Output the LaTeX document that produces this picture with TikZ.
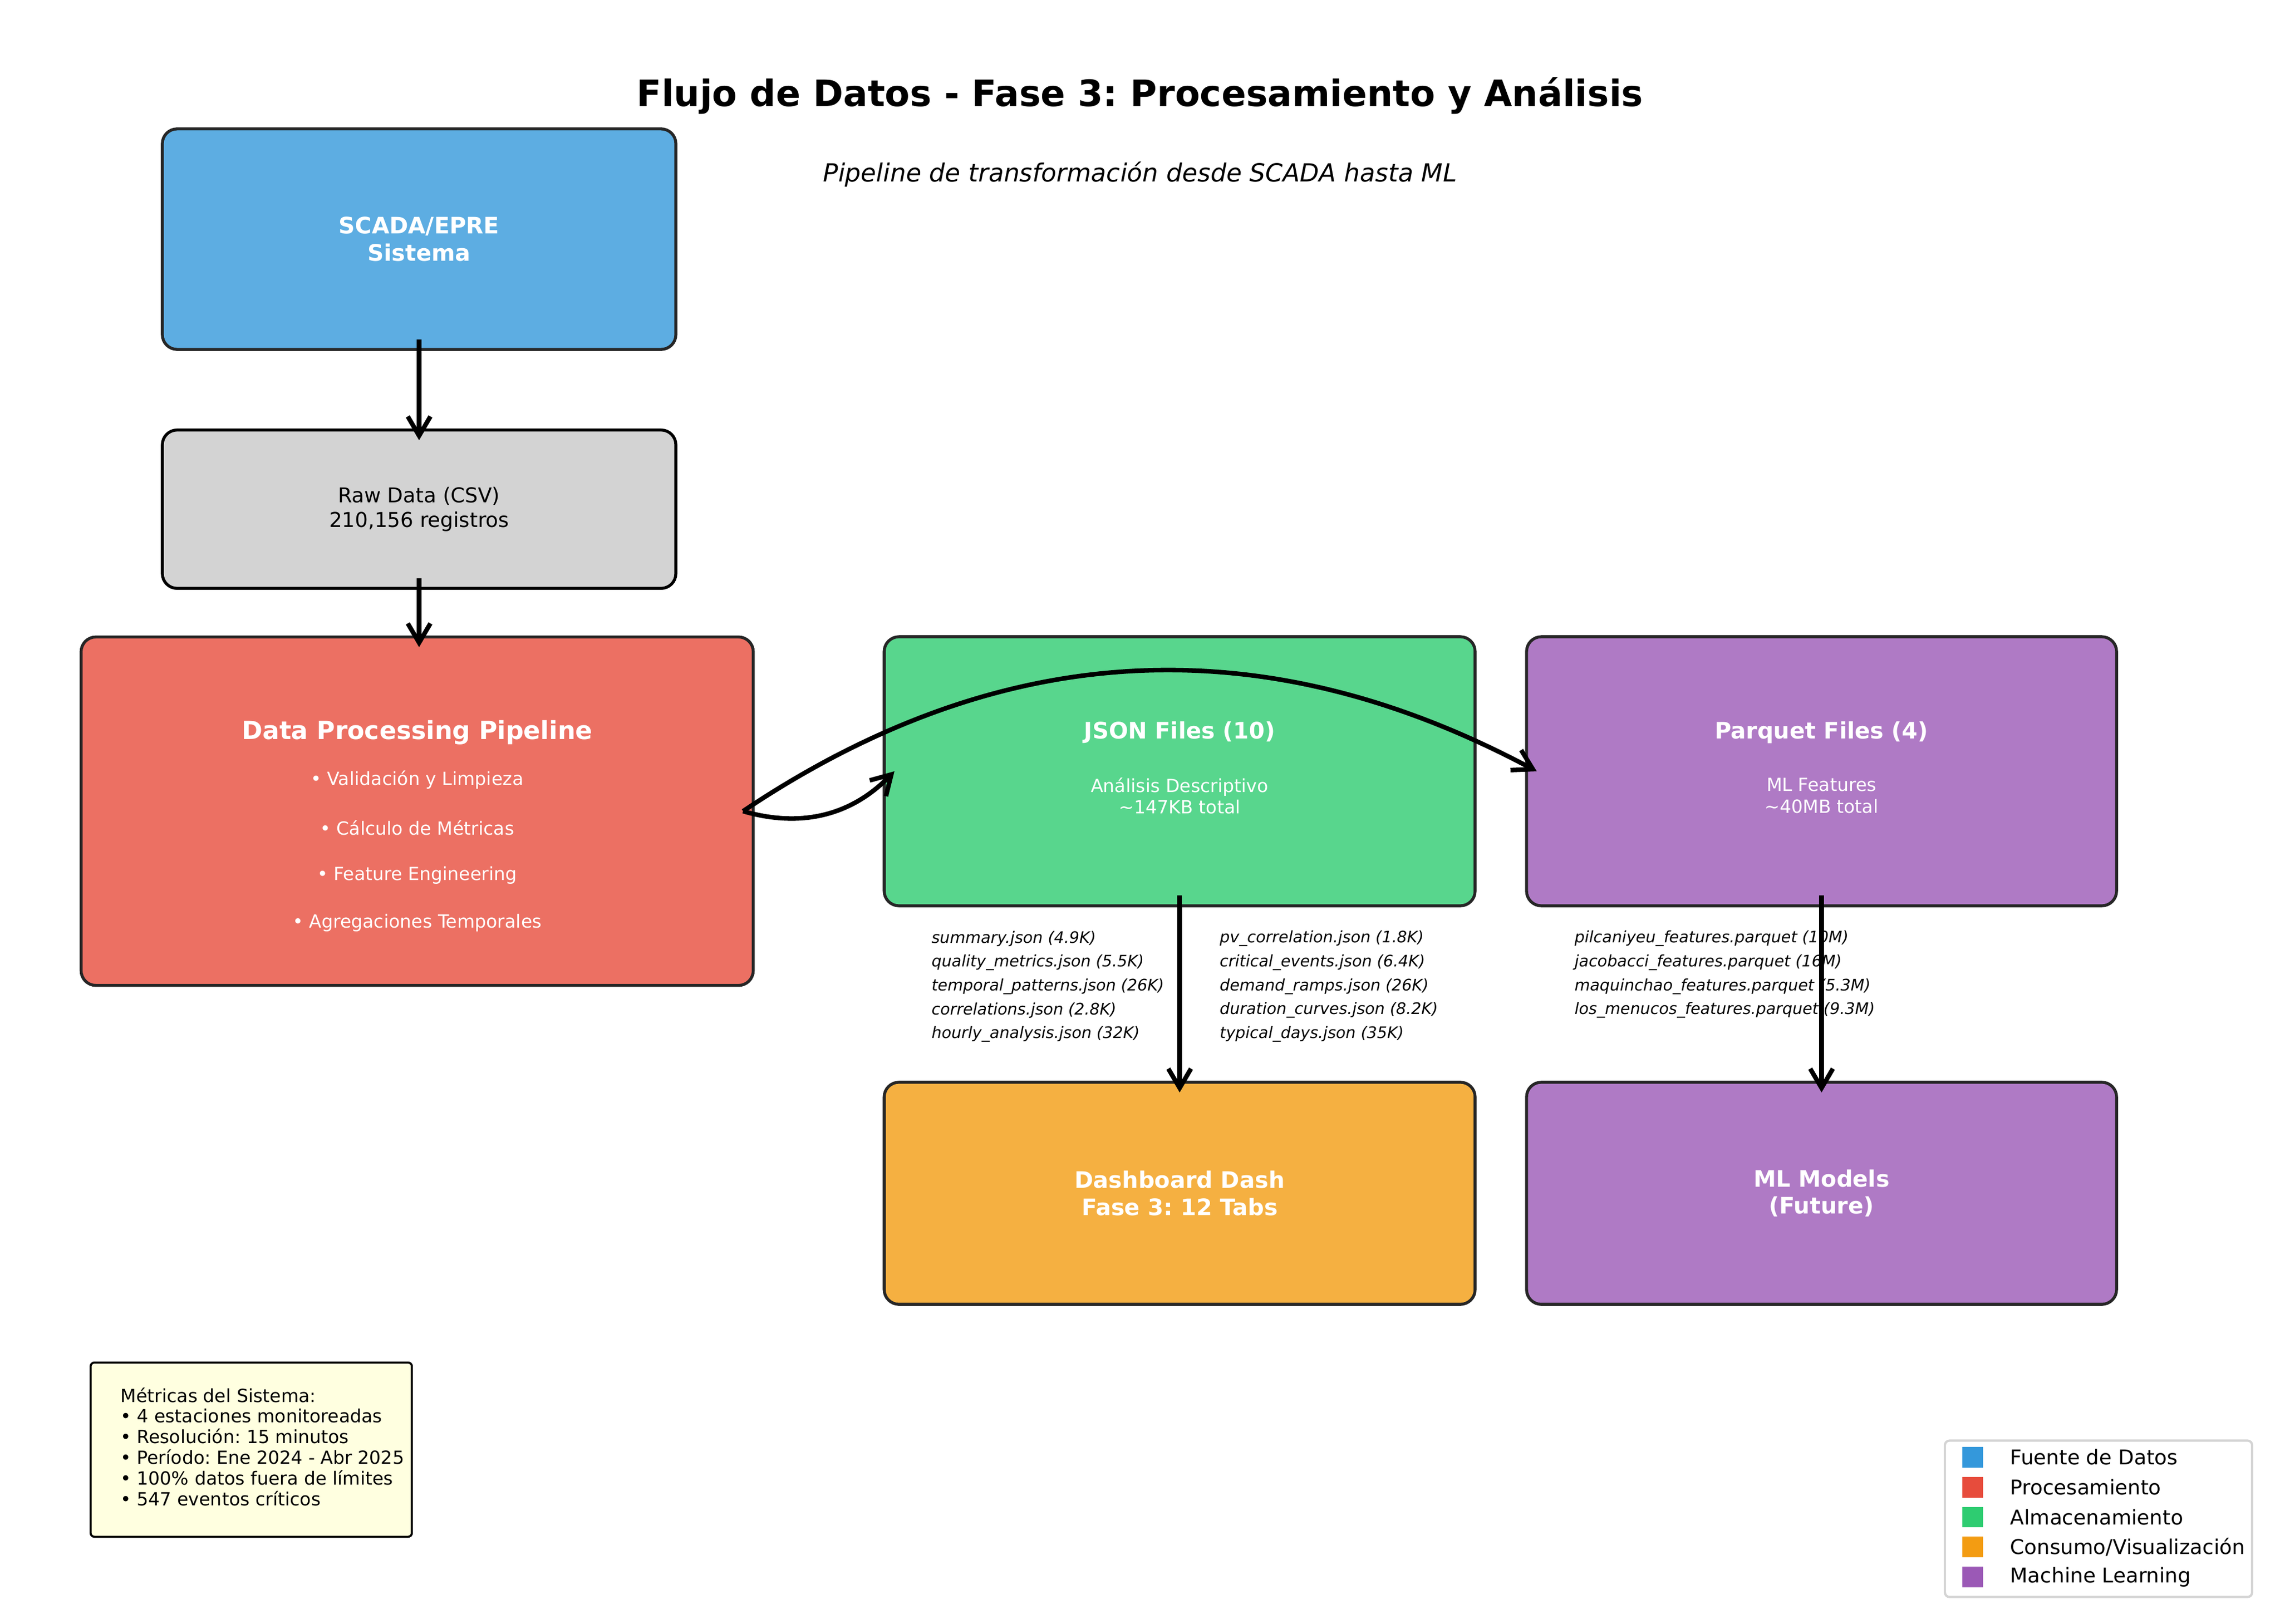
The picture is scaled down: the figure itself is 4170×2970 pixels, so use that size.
\documentclass[tikz,border=0pt]{standalone}
\usepackage{fontspec}
\setmainfont{DejaVu Sans}
\usepackage{tikz}
\usetikzlibrary{calc,positioning,arrows.meta,fit,shapes}
\frenchspacing

\definecolor{fuente}{HTML}{3498DB}
\definecolor{proceso}{HTML}{E74C3C}
\definecolor{almacen}{HTML}{2ECC71}
\definecolor{consumo}{HTML}{F39C12}
\definecolor{mlcolor}{HTML}{9B59B6}
\definecolor{gris}{HTML}{D3D3D3}
\definecolor{amarillo}{HTML}{FFFFE0}

\tikzset{
	block/.style={draw=black!85, line width=1.3pt, rounded corners=6.5pt, text=white,
		font=\bfseries\fontsize{10}{12}\selectfont, align=center, outer sep=-4.5pt},
	boxtitle/.style={text=white, inner sep=0pt},
	boxtext/.style={text=white, inner sep=0pt, align=center, font=\fontsize{8}{9.6}\selectfont},
	archivo/.style={anchor=west, inner sep=0pt, font=\itshape\fontsize{7}{8.4}\selectfont},
	flow/.style={-{Straight Barb[length=8.5pt,width=10pt]}, line width=2pt},
	swatch/.style={minimum size=9.1pt, inner sep=0pt, outer sep=0pt},
	legtext/.style={anchor=west, inner sep=0pt, outer sep=0pt, font=\fontsize{9}{10.8}\selectfont}
}

\begin{document}
\begin{tikzpicture}[x=0.0084667cm, y=-0.0084667cm]
	\useasboundingbox (0,0) rectangle (4170,2970);

	\node[anchor=base, font=\bfseries\fontsize{16}{19}\selectfont] (titulo) at (2085,195) {Flujo de Datos - Fase 3: Procesamiento y Análisis};
	\node[anchor=base, font=\itshape\fontsize{11}{13}\selectfont] (subtitulo) at (2085,333) {Pipeline de transformación desde SCADA hasta ML};

	% cajas
	\node[block, fill=fuente!80!white, minimum width=226.3pt, minimum height=97.2pt] (scada) at (766.5,437.5) {SCADA/EPRE\\Sistema};
	\node[block, draw=black, fill=gris, text=black, font=\fontsize{9}{10.8}\selectfont, minimum width=226.3pt, minimum height=69.8pt] (raw) at (766.5,931.5) {Raw Data (CSV)\\210,156 registros};

	\node[block, fill=proceso!80!white, minimum width=296.2pt, minimum height=153.6pt] (proc) at (763,1484) {};
	\node[boxtitle, font=\bfseries\fontsize{11}{13}\selectfont] (proctit) at (763,1340) {Data Processing Pipeline};
	\foreach \t [count=\i from 0] in {Validación y Limpieza, Cálculo de Métricas, Feature Engineering, Agregaciones Temporales}
		\node[boxtext] (paso\i) at (763,1427+87*\i) {• \t};

	\node[block, fill=almacen!80!white, minimum width=260.4pt, minimum height=118.6pt] (json) at (2157.5,1411) {};
	\node[boxtitle, font=\bfseries\fontsize{10}{12}\selectfont] (jsontit) at (2157.5,1340) {JSON Files (10)};
	\node[boxtext] (jsonsub) at (2157.5,1456) {Análisis Descriptivo\\\textasciitilde147KB total};

	\node[block, fill=mlcolor!80!white, minimum width=260pt, minimum height=118.6pt] (parquet) at (3331.5,1411) {};
	\node[boxtitle, font=\bfseries\fontsize{10}{12}\selectfont] (parqtit) at (3331.5,1340) {Parquet Files (4)};
	\node[boxtext] (parqsub) at (3331.5,1456) {ML Features\\\textasciitilde40MB total};

	\node[block, fill=consumo!80!white, minimum width=260.4pt, minimum height=97.9pt] (dash) at (2157.5,2183) {Dashboard Dash\\Fase 3: 12 Tabs};
	\node[block, fill=mlcolor!80!white, minimum width=260pt, minimum height=97.9pt] (mlmod) at (3331.5,2183) {ML Models\\(Future)};

	% archivos
	\foreach \f [count=\i from 0] in {summary.json (4.9K), quality\_metrics.json (5.5K), temporal\_patterns.json (26K), correlations.json (2.8K), hourly\_analysis.json (32K)}
		\node[archivo] (ja\i) at (1703,1717+43.7*\i) {\f};
	\foreach \f [count=\i from 0] in {pv\_correlation.json (1.8K), critical\_events.json (6.4K), demand\_ramps.json (26K), duration\_curves.json (8.2K), typical\_days.json (35K)}
		\node[archivo] (jb\i) at (2230,1717+43.7*\i) {\f};
	\foreach \f [count=\i from 0] in {pilcaniyeu\_features.parquet (10M), jacobacci\_features.parquet (16M), maquinchao\_features.parquet (5.3M), los\_menucos\_features.parquet (9.3M)}
		\node[archivo] (pq\i) at (2879,1717+43.7*\i) {\f};

	% flechas
	\draw[flow] (scada) -- (raw);
	\draw[flow] (raw.south) -- (raw.south |- proc.north);
	\draw[flow] (proc.east) to[bend right=31] (json.west);
	\draw[flow] (proc.east) to[bend left=31] (parquet.west);
	\draw[flow] (json) -- (dash);
	\draw[flow] (parquet) -- (mlmod);

	% metricas
	\node[draw=black, line width=0.9pt, fill=amarillo, rounded corners=1.7pt, inner xsep=3.4pt,
		font=\fontsize{8}{9.05}\selectfont, minimum width=140.9pt, minimum height=76.8pt] (metricas) at (459.5,2652)
		{\raisebox{-1.5pt}{\begin{tabular}{@{\hspace{9.8pt}}l@{}}Métricas del Sistema:\\• 4 estaciones monitoreadas\\• Resolución: 15 minutos\\• Período: Ene 2024 - Abr 2025\\• 100\% datos fuera de límites\\• 547 eventos críticos\end{tabular}}};

	% leyenda
	\node[draw=black!17, line width=1pt, fill=white, rounded corners=2pt, minimum width=135.4pt, minimum height=68.9pt] (leyenda) at (3838,2778.5) {};
	\foreach \c/\t [count=\i from 0] in {fuente/Fuente de Datos, proceso/Procesamiento, almacen/Almacenamiento, consumo/{Consumo/Visualización}, mlcolor/Machine Learning}{
		\node[swatch, fill=\c] (cuadro\i) at (3608,2666+54.7*\i) {};
		\node[legtext, right=12pt of cuadro\i] (etiq\i) {\t};
	}
\end{tikzpicture}
\end{document}
